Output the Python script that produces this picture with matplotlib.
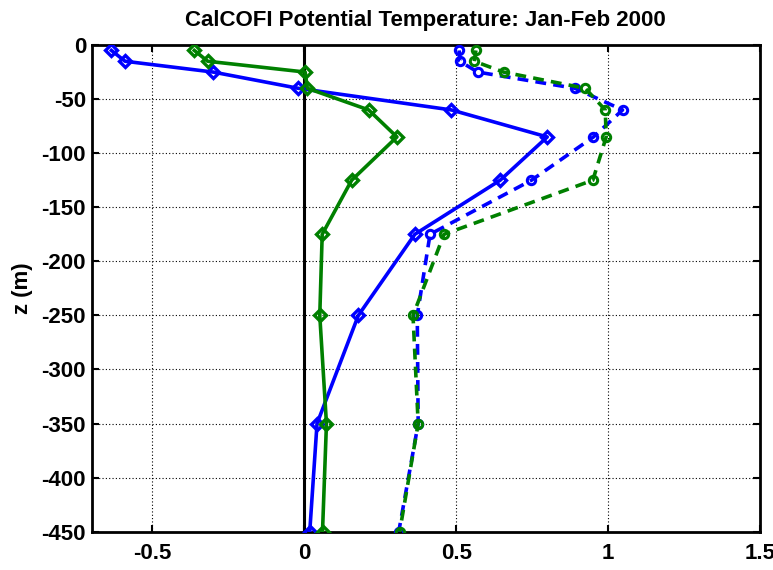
import matplotlib
matplotlib.use("Agg")
import matplotlib.pyplot as plt

plt.rcParams['font.family'] = ['Liberation Sans', 'DejaVu Sans']
plt.rcParams['font.weight'] = 'bold'
plt.rcParams['axes.unicode_minus'] = False

# depths (m)
z = [-5, -15, -25, -40, -60, -85, -125, -175, -250, -350, -450]

# solid lines, diamonds
blue_solid = [-0.635, -0.59, -0.30, -0.02, 0.484, 0.80, 0.645, 0.364, 0.178, 0.042, 0.018]
green_solid = [-0.362, -0.318, 0.003, 0.01, 0.212, 0.305, 0.156, 0.059, 0.051, 0.073, 0.06]

# dashed lines, circles
blue_dash = [0.51, 0.512, 0.571, 0.891, 1.048, 0.952, 0.748, 0.414, 0.372, 0.375, 0.311]
green_dash = [0.565, 0.56, 0.656, 0.925, 0.991, 0.994, 0.95, 0.46, 0.358, 0.375, 0.314]

xticks = [-0.5, 0, 0.5, 1, 1.5]
xticklabels = ['-0.5', '0', '0.5', '1', '1.5']
yticks = list(range(-450, 1, 50))

blue = (0, 0, 1)
green = (0, 0.5, 0)

fig = plt.figure(figsize=(7.73, 5.70), dpi=100)
ax = fig.add_axes([0.1186, 0.0672, 0.983 - 0.1186, 0.921 - 0.0672])

ax.axvline(0, color='k', lw=2.2, zorder=1)

ax.plot(blue_solid, z, '-', color=blue, lw=2.6, marker='D', ms=6, mew=2.4,
        mfc='none', zorder=3)
ax.plot(green_solid, z, '-', color=green, lw=2.6, marker='D', ms=6, mew=2.4,
        mfc='none', zorder=3)
ax.plot(blue_dash, z, '--', color=blue, lw=2.6, dashes=(3, 2), marker='o', ms=6,
        mew=2.2, mfc='none', zorder=3)
ax.plot(green_dash, z, '--', color=green, lw=2.6, dashes=(3, 2), marker='o', ms=6,
        mew=2.2, mfc='none', zorder=3)

ax.set_xlim(-0.7, 1.5)
ax.set_ylim(-450, 0)
ax.set_xticks(xticks)
ax.set_xticklabels(xticklabels)
ax.set_yticks(yticks)

ax.grid(True, color='k', linestyle=(0, (1, 2)), linewidth=0.8)
ax.set_axisbelow(True)

ax.tick_params(direction='in', top=True, right=True, length=5, width=1.5,
               labelsize=16)
ax.tick_params(axis='x', pad=8)
ax.tick_params(axis='y', pad=4)
for s in ax.spines.values():
    s.set_linewidth(2.0)

ax.set_ylabel('z (m)', fontsize=16, fontweight='bold', labelpad=6)
ax.set_title('CalCOFI Potential Temperature: Jan-Feb 2000', fontsize=16,
             fontweight='bold', pad=14)

fig.savefig('out.png', dpi=100)
